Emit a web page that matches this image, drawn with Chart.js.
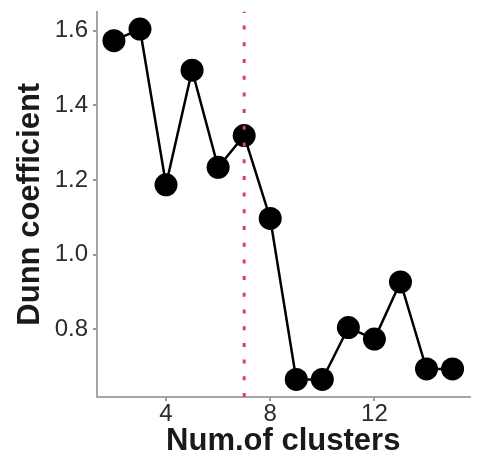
<!DOCTYPE html>
<html>
<head>
<meta charset="utf-8">
<script src="https://cdn.jsdelivr.net/npm/chart.js@4/dist/chart.umd.min.js"></script>
<style>
  html, body { margin: 0; padding: 0; background: #fff; }
  #wrap { width: 481px; height: 460px; }
</style>
</head>
<body>
<div id="wrap"><canvas id="chart" width="481" height="460"></canvas></div>
<script>
// number of clusters vs Dunn coefficient
const clusters = [2, 3, 4, 5, 6, 7, 8, 9, 10, 11, 12, 13, 14, 15];
const dunn = [1.573, 1.604, 1.187, 1.494, 1.234, 1.319, 1.097, 0.666, 0.666, 0.805, 0.774, 0.927, 0.694, 0.694];
const xTicks = [4, 8, 12];
const yTicks = [0.8, 1.0, 1.2, 1.4, 1.6];
const chosenK = 7;

const xMin = 1.35, xMax = 15.65;
const yMin = 0.619, yMax = 1.651;

const points = clusters.map((k, i) => ({ x: k, y: dunn[i] }));
const cutLine = [{ x: chosenK, y: yMin }, { x: chosenK, y: yMax }];

const font = "'Liberation Sans', Arial, sans-serif";

new Chart(document.getElementById('chart'), {
  type: 'scatter',
  data: {
    datasets: [
      {
        data: cutLine,
        showLine: true,
        borderColor: '#d9434f',
        borderWidth: 3,
        borderDash: [4, 12.7],
        pointRadius: 0
      },
      {
        data: points,
        showLine: true,
        borderColor: '#000',
        borderWidth: 2.5,
        pointRadius: 11.5,
        pointBackgroundColor: '#000',
        pointBorderColor: '#000',
        pointBorderWidth: 0
      }
    ]
  },
  options: {
    responsive: false,
    animation: false,
    layout: { padding: { top: 6, right: 6, left: 0, bottom: 0 } },
    plugins: { legend: { display: false }, tooltip: { enabled: false } },
    scales: {
      x: {
        type: 'linear',
        min: xMin,
        max: xMax,
        afterBuildTicks: s => { s.ticks = xTicks.map(v => ({ value: v })); },
        afterFit: s => { s.height = 63; s.paddingLeft = 0; s.paddingRight = 0; },
        grid: { drawOnChartArea: false, drawTicks: true, tickLength: 4, color: '#9a9a9a', lineWidth: 2 },
        border: { color: '#a5a5a5', width: 2 },
        ticks: { color: '#2b2b2b', padding: -1, font: { family: font, size: 24 } },
        title: {
          display: true,
          text: 'Num.of clusters',
          color: '#1a1a1a',
          padding: { top: 0, bottom: 0 },
          font: { family: font, size: 31, weight: 'bold' }
        }
      },
      y: {
        type: 'linear',
        min: yMin,
        max: yMax,
        afterBuildTicks: s => { s.ticks = yTicks.map(v => ({ value: v })); },
        afterFit: s => { s.width = 97; s.paddingTop = 0; s.paddingBottom = 0; },
        grid: { drawOnChartArea: false, drawTicks: true, tickLength: 4, color: '#9a9a9a', lineWidth: 2 },
        border: { color: '#a5a5a5', width: 2 },
        ticks: {
          color: '#2b2b2b',
          padding: 5,
          font: { family: font, size: 24 },
          callback: v => v.toFixed(1)
        },
        title: {
          display: true,
          text: 'Dunn coefficient',
          color: '#1a1a1a',
          padding: { top: 12, bottom: 0 },
          font: { family: font, size: 31, weight: 'bold' }
        }
      }
    }
  }
});
</script>
</body>
</html>
